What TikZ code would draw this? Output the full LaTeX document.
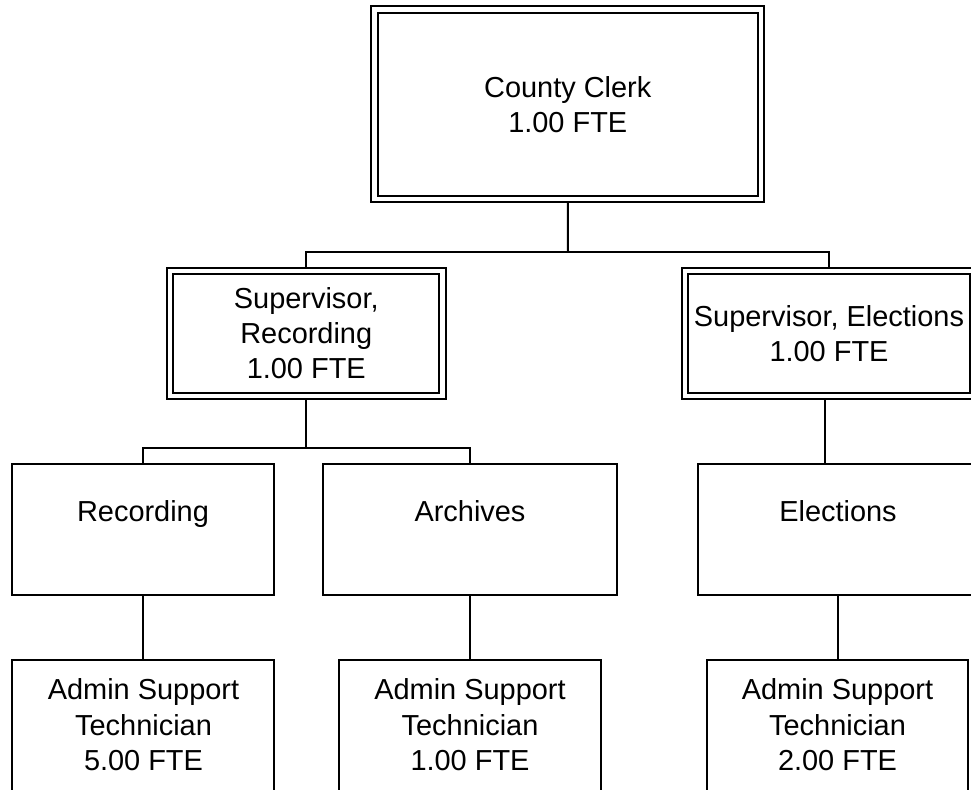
\documentclass[tikz,border=0pt]{standalone}
\usepackage{fontspec}
\setmainfont{Liberation Sans}
\usetikzlibrary{backgrounds}
\def\px{0.75pt}
\tikzset{
  lbl/.style={align=center, inner sep=0pt, font=\fontsize{21.7pt}{26.3pt}\selectfont},
  sbox/.style={draw, line width=1.5pt, inner sep=0pt},
  dbox/.style={lbl, draw, line width=1.5pt, double, double distance=3.3pt},
  conn/.style={line width=1.5pt}
}
\begin{document}
\begin{tikzpicture}[x=0.75pt, y=-0.75pt]
\useasboundingbox (0,0) rectangle (971,789);
\clip (0,0) rectangle (971,789);
% level 1
\node[dbox, minimum width=386.5*\px, minimum height=189.5*\px] (clerk) at (567.75,104.25) {County Clerk\\1.00 FTE};
% level 2
\node[dbox, minimum width=272.5*\px, minimum height=125*\px] (supR) at (306.25,333.5) {Supervisor,\\Recording\\1.00 FTE};
\node[dbox, minimum width=288*\px, minimum height=125*\px] (supE) at (829,333.5) {Supervisor, Elections\\1.00 FTE};
% level 3
\node[sbox, minimum width=262*\px, minimum height=131*\px] (rec) at (143,529.5) {};
\node[lbl, anchor=base] (recT) at (143,521) {Recording};
\node[sbox, minimum width=294*\px, minimum height=131*\px] (arc) at (470,529.5) {};
\node[lbl, anchor=base] (arcT) at (470,521) {Archives};
\node[sbox, minimum width=302*\px, minimum height=131*\px] (elec) at (849,529.5) {};
\node[lbl, anchor=base] (elecT) at (838,521) {Elections};
% level 4
\node[sbox, minimum width=262*\px, minimum height=200*\px] (admR) at (143,760) {};
\node[lbl] (admRT) at (143.5,724.7) {Admin Support\\Technician\\5.00 FTE};
\node[sbox, minimum width=262*\px, minimum height=200*\px] (admA) at (470,760) {};
\node[lbl] (admAT) at (470,724.7) {Admin Support\\Technician\\1.00 FTE};
\node[sbox, minimum width=261*\px, minimum height=200*\px] (admE) at (837.5,760) {};
\node[lbl] (admET) at (837.5,724.7) {Admin Support\\Technician\\2.00 FTE};
% junctions
\coordinate (j1) at (568,252);
\coordinate (j2) at (306.25,448);
\coordinate (ec) at (825,0);
\begin{scope}[on background layer]
  \fill[white] (0,0) rectangle (971,789);
  \draw[conn] (clerk.south) -- (j1);
  \draw[conn] (supR.north) |- (j1) -| (supE.north);
  \draw[conn] (supR.south) -- (j2);
  \draw[conn] (rec.north) |- (j2) -| (arc.north);
  \draw[conn] (ec |- supE.south) -- (ec |- elec.north);
  \draw[conn] (rec.south) -- (admR.north);
  \draw[conn] (arc.south) -- (admA.north);
  \draw[conn] (admE.north |- elec.south) -- (admE.north);
\end{scope}
\end{tikzpicture}
\end{document}
